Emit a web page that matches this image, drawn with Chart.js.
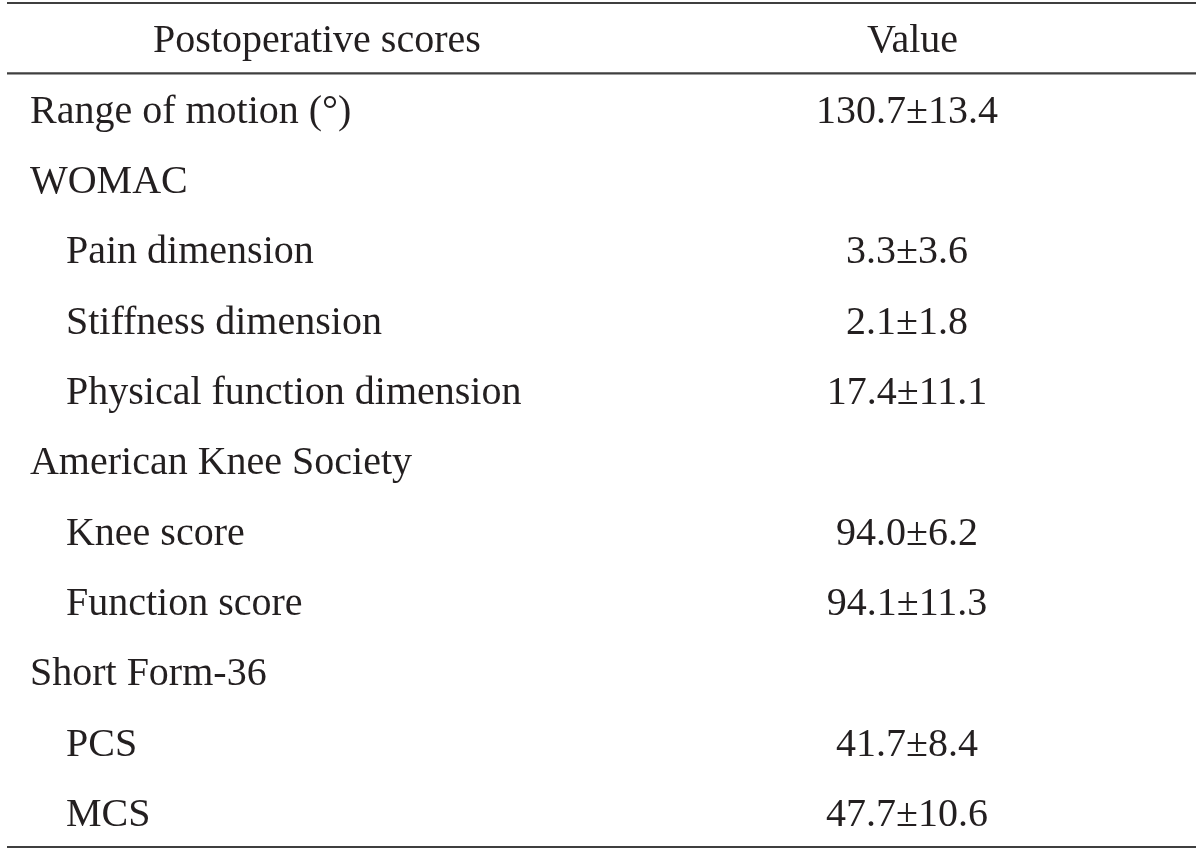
<!DOCTYPE html>
<html>
<head>
<meta charset="utf-8">
<script src="https://cdn.jsdelivr.net/npm/chart.js@4/dist/chart.umd.min.js"></script>
<style>
  html, body { margin: 0; padding: 0; background: #fff; }
  #wrap { width: 1200px; height: 851px; }
</style>
</head>
<body>
<div id="wrap"><canvas id="ctx"></canvas></div>
<script>
// table content
const headers = ['Postoperative scores', 'Value'];
const rowLabels = [
  'Range of motion (\u00B0)',
  'WOMAC',
  'Pain dimension',
  'Stiffness dimension',
  'Physical function dimension',
  'American Knee Society',
  'Knee score',
  'Function score',
  'Short Form-36',
  'PCS',
  'MCS'
];
const rowIndent = [0, 0, 1, 1, 1, 0, 1, 1, 0, 1, 1];
const rowValues = ['130.7\u00B113.4', '', '3.3\u00B13.6', '2.1\u00B11.8', '17.4\u00B111.1', '',
  '94.0\u00B16.2', '94.1\u00B111.3', '', '41.7\u00B18.4', '47.7\u00B110.6'];

// column anchors as fraction of table width
const colLabel = 0.0193, colIndent = 0.0496, colHead = 0.2607, colValue = 0.757, colValueHead = 0.7616;

const FONT = '40px "Liberation Serif", "DejaVu Serif", serif';
const TEXT_COLOR = '#231f20';
const RULE_COLOR = '#3f3f3f';

const yLabels = [headers[0]].concat(rowLabels);

const headerData = [
  {x: colHead, y: headers[0], text: headers[0]},
  {x: colValueHead, y: headers[0], text: headers[1]}
];
const labelData = rowLabels.map((r, i) => ({x: rowIndent[i] ? colIndent : colLabel, y: r, text: r}));
const valueData = [];
rowValues.forEach((v, i) => { if (v) valueData.push({x: colValue, y: rowLabels[i], text: v}); });

const tablePlugin = {
  id: 'tableText',
  afterDatasetsDraw(chart) {
    const c = chart.ctx;
    const area = chart.chartArea;
    const ys = chart.scales.y;
    c.save();
    // horizontal rules at band edges: top, below header, bottom
    c.strokeStyle = RULE_COLOR;
    c.lineWidth = 2.2;
    [-0.5, 0.5, yLabels.length - 0.5].forEach(b => {
      const py = ys.getPixelForValue(b);
      c.beginPath();
      c.moveTo(area.left, py);
      c.lineTo(area.right, py);
      c.stroke();
    });
    c.font = FONT;
    c.fillStyle = TEXT_COLOR;
    c.textBaseline = 'alphabetic';
    chart.data.datasets.forEach((ds, i) => {
      const meta = chart.getDatasetMeta(i);
      c.textAlign = ds.textAlign;
      meta.data.forEach((pt, j) => {
        c.fillText(ds.data[j].text, pt.x, pt.y + 14);
      });
    });
    c.restore();
  }
};

const chart = new Chart(document.getElementById('ctx'), {
  type: 'scatter',
  data: {
    datasets: [
      {label: 'header', data: headerData, textAlign: 'center', pointRadius: 0},
      {label: 'labels', data: labelData, textAlign: 'left', pointRadius: 0},
      {label: 'values', data: valueData, textAlign: 'center', pointRadius: 0}
    ]
  },
  options: {
    responsive: true,
    maintainAspectRatio: false,
    animation: false,
    events: [],
    layout: { padding: {left: 7, right: 4, top: 3, bottom: 4} },
    plugins: { legend: {display: false}, tooltip: {enabled: false} },
    scales: {
      x: { type: 'linear', min: 0, max: 1, display: false },
      y: { type: 'category', labels: yLabels, offset: true, display: false }
    }
  },
  plugins: [tablePlugin]
});
</script>
</body>
</html>
